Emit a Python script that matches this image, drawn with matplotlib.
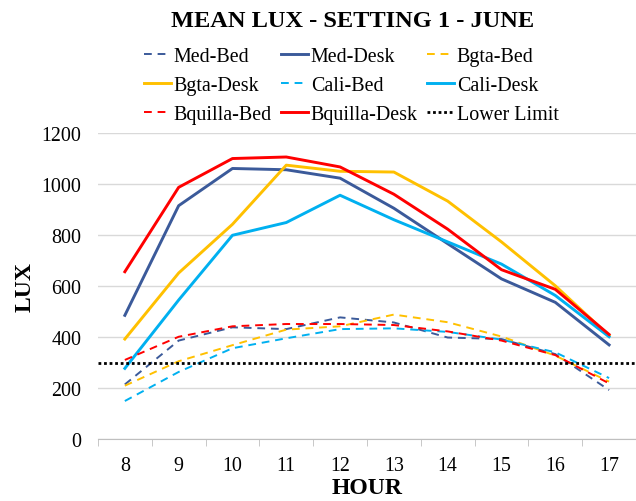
import numpy as np
import matplotlib.pyplot as plt

plt.rcParams['font.family'] = ['Liberation Serif', 'DejaVu Serif']

# Datos
horas = [8, 9, 10, 11, 12, 13, 14, 15, 16, 17]

med_bed = [214, 386, 438, 431, 477, 457, 398, 392, 333, 192]
med_desk = [485, 915, 1061, 1056, 1023, 905, 766, 628, 536, 369]
bgta_bed = [209, 305, 368, 429, 442, 488, 458, 402, 327, 225]
bgta_desk = [392, 651, 842, 1074, 1050, 1047, 933, 773, 601, 405]
cali_bed = [149, 263, 356, 395, 431, 434, 420, 390, 340, 239]
cali_desk = [277, 545, 799, 849, 956, 860, 773, 686, 563, 401]
bquilla_bed = [310, 401, 442, 451, 451, 447, 422, 386, 329, 218]
bquilla_desk = [656, 987, 1100, 1106, 1067, 960, 823, 664, 587, 410]
limite = 300

azul = '#3B5A9A'
amarillo = '#FFC000'
celeste = '#00B0F0'
rojo = '#FF0000'

fig = plt.figure(figsize=(6.36, 5.02), dpi=100)
ax = fig.add_axes([0.154, 0.1235, 0.846, 0.6095])

x = np.arange(len(horas))
dash = (0, (4, 3))
lw_bed = 1.4
lw_desk = 2.1

lineas = []
lineas += ax.plot(x, med_bed, color=azul, lw=lw_bed, ls=dash, label='Med-Bed')
lineas += ax.plot(x, med_desk, color=azul, lw=lw_desk, label='Med-Desk')
lineas += ax.plot(x, bgta_bed, color=amarillo, lw=lw_bed, ls=dash, label='Bgta-Bed')
lineas += ax.plot(x, bgta_desk, color=amarillo, lw=lw_desk, label='Bgta-Desk')
lineas += ax.plot(x, cali_bed, color=celeste, lw=lw_bed, ls=dash, label='Cali-Bed')
lineas += ax.plot(x, cali_desk, color=celeste, lw=lw_desk, label='Cali-Desk')
lineas += ax.plot(x, bquilla_bed, color=rojo, lw=lw_bed, ls=dash, label='Bquilla-Bed')
lineas += ax.plot(x, bquilla_desk, color=rojo, lw=lw_desk, label='Bquilla-Desk')
# limite inferior a lo ancho de todo el eje
lineas.append(ax.axhline(limite, color='black', lw=2.0, ls=(0, (1, 1)),
                         label='Lower Limit'))

ax.set_xlim(-0.5, len(horas) - 0.5)
ax.set_ylim(0, 1200)
ax.set_yticks(range(0, 1201, 200))
ax.set_xticks(x)
ax.set_xticklabels([str(h) for h in horas])
ax.set_xticks(np.arange(-0.5, len(horas), 1), minor=True)

ax.grid(axis='y', color='#D9D9D9', lw=1)
ax.set_axisbelow(True)
for s in ['top', 'right', 'left']:
    ax.spines[s].set_visible(False)
ax.spines['bottom'].set_color('#BFBFBF')
ax.tick_params(axis='x', which='major', length=0, labelsize=14.4, pad=12)
ax.tick_params(axis='x', which='minor', length=5, color='#BFBFBF')
ax.tick_params(axis='y', length=0, labelsize=14.4, pad=12)

ax.set_xlabel('HOUR', fontsize=17, fontweight='bold', labelpad=2)
ax.set_ylabel('LUX', fontsize=17, fontweight='bold', labelpad=4)

fig.text(0.555, 0.958, 'MEAN LUX - SETTING 1 - JUNE', ha='center', va='center',
         fontsize=17.6, fontweight='bold')

# reordenar para que la leyenda se lea por filas
orden = [0, 3, 6, 1, 4, 7, 2, 5, 8]
leg = fig.legend([lineas[i] for i in orden], [lineas[i].get_label() for i in orden],
                 ncol=3, loc='center', bbox_to_anchor=(0.552, 0.828), frameon=False,
                 fontsize=14.4, handlelength=1.35, handletextpad=0.15,
                 columnspacing=0.45, labelspacing=0.5, borderpad=0,
                 borderaxespad=0)

fig.savefig('out.png', dpi=100)
